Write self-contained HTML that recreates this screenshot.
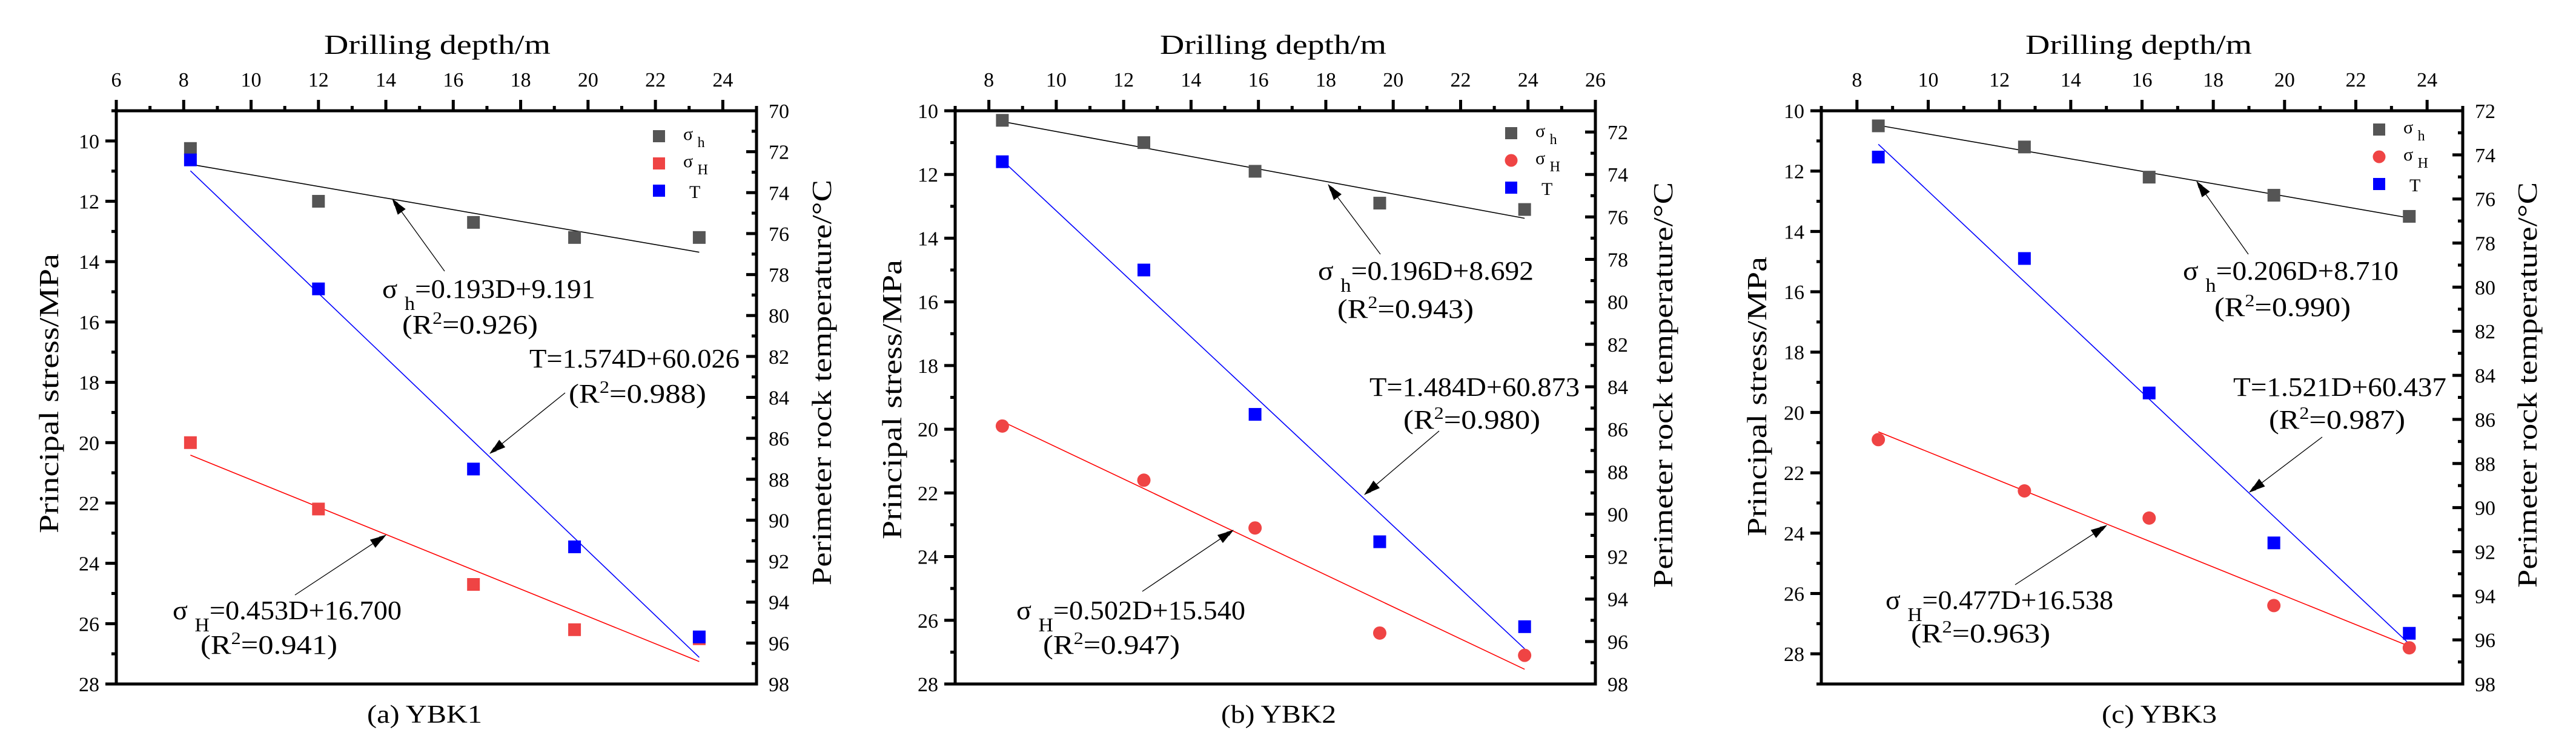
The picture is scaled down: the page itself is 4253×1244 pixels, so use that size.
<!DOCTYPE html>
<html><head><meta charset="utf-8"><style>
html,body{margin:0;padding:0;background:#fff;}
svg{display:block;}
text{font-family:"Liberation Serif","Noto Serif CJK SC",serif;fill:#000;}
</style></head><body>
<svg id="chart" width="4253" height="1244" viewBox="0 0 4253 1244" xmlns="http://www.w3.org/2000/svg">
<defs><marker id="ah" markerWidth="12" markerHeight="8" refX="11" refY="4" orient="auto" markerUnits="userSpaceOnUse" viewBox="0 0 12 8"><path d="M0,0 L12,4 L0,8 Z" fill="#000"/></marker></defs>
</svg>
<script>
// Panel (a) YBK1
const aDepth = [8.2, 12.0, 16.6, 19.6, 23.3];
const aSh = [10.25, 12.0, 12.7, 13.2, 13.2];
const aSH = [20.0, 22.2, 24.7, 26.2, 26.5];
const aT = [72.4, 78.7, 87.5, 91.3, 95.7];
const aFitSh = [0.193, 9.191];
const aFitSH = [0.453, 16.700];
const aFitT = [1.574, 60.026];
const aXTicks = [6, 8, 10, 12, 14, 16, 18, 20, 22, 24];
const aYTicks = [10, 12, 14, 16, 18, 20, 22, 24, 26, 28];
const aRTicks = [70, 72, 74, 76, 78, 80, 82, 84, 86, 88, 90, 92, 94, 96, 98];
const aLabels = ["0.193D+9.191", "0.926", "T=1.574D+60.026", "0.988", "0.453D+16.700", "0.941", "(a) YBK1"];
// Panel (b) YBK2
const bDepth = [8.4, 12.6, 15.9, 19.6, 23.9];
const bSh = [10.3, 11.0, 11.9, 12.9, 13.1];
const bSH = [19.9, 21.6, 23.1, 26.4, 27.1];
const bT = [73.4, 78.5, 85.3, 91.3, 95.3];
const bFitSh = [0.196, 8.692];
const bFitSH = [0.502, 15.540];
const bFitT = [1.484, 60.873];
const bXTicks = [8, 10, 12, 14, 16, 18, 20, 22, 24, 26];
const bYTicks = [10, 12, 14, 16, 18, 20, 22, 24, 26, 28];
const bRTicks = [72, 74, 76, 78, 80, 82, 84, 86, 88, 90, 92, 94, 96, 98];
const bLabels = ["0.196D+8.692", "0.943", "T=1.484D+60.873", "0.980", "0.502D+15.540", "0.947", "(b) YBK2"];
// Panel (c) YBK3
const cDepth = [8.6, 12.7, 16.2, 19.7, 23.5];
const cSh = [10.5, 11.2, 12.2, 12.8, 13.5];
const cSH = [20.9, 22.6, 23.5, 26.4, 27.8];
const cT = [74.1, 78.7, 84.8, 91.6, 95.7];
const cFitSh = [0.206, 8.710];
const cFitSH = [0.477, 16.538];
const cFitT = [1.521, 60.437];
const cXTicks = [8, 10, 12, 14, 16, 18, 20, 22, 24];
const cYTicks = [10, 12, 14, 16, 18, 20, 22, 24, 26, 28];
const cRTicks = [72, 74, 76, 78, 80, 82, 84, 86, 88, 90, 92, 94, 96, 98];
const cLabels = ["0.206D+8.710", "0.990", "T=1.521D+60.437", "0.987", "0.477D+16.538", "0.963", "(c) YBK3"];

const NS = "http://www.w3.org/2000/svg";
const svg = document.getElementById("chart");
function mk(tag, attrs, parent) {
  const e = document.createElementNS(NS, tag);
  for (const k in attrs) e.setAttribute(k, attrs[k]);
  (parent || svg).appendChild(e);
  return e;
}

const panels = [
  {id:"a", L:192, R:1249, T:183, B:1130, x0:6, x1:25, y0:9, y1:28, r0:70, r1:98,
   depth:aDepth, sh:aSh, sH:aSH, t:aT, fSh:aFitSh, fSH:aFitSH, fT:aFitT, xt:aXTicks, yt:aYTicks, rt:aRTicks, lab:aLabels, circ:false,
   title:[722,89], ylt:[80,650], yrt:[1356,632],
   ann:{sh:[631,492,352], shr:[664,551,224], sha:[734,448,648,329],
        t:[874,607,347], tr:[939,665,227], ta:[933,649,809,749],
        sH:[285,1023,378], sHr:[331,1080,226], sHa:[487,983,637,884]},
   cap:[701,1194], leg:[1088,225,45]},
  {id:"b", L:1577, R:2634, T:183, B:1130, x0:7, x1:26, y0:10, y1:28, r0:71, r1:98,
   depth:bDepth, sh:bSh, sH:bSH, t:bT, fSh:bFitSh, fSH:bFitSH, fT:bFitT, xt:bXTicks, yt:bYTicks, rt:bRTicks, lab:bLabels, circ:true,
   title:[2102,89], ylt:[1472,660], yrt:[2745,636],
   ann:{sh:[2176,462,356], shr:[2208,525,225], sha:[2279,420,2193,305],
        t:[2261,654,347], tr:[2317,708,226], ta:[2376,712,2253,817],
        sH:[1678,1023,378], sHr:[1722,1080,226], sHa:[1886,977,2036,876]},
   cap:[2111,1194], leg:[2495,220,45]},
  {id:"c", L:3007, R:4066, T:183, B:1130, x0:7, x1:25, y0:10, y1:29, r0:72, r1:98,
   depth:cDepth, sh:cSh, sH:cSH, t:cT, fSh:cFitSh, fSH:cFitSH, fT:cFitT, xt:cXTicks, yt:cYTicks, rt:cRTicks, lab:cLabels, circ:true,
   title:[3531,89], ylt:[2900,655], yrt:[4172,636],
   ann:{sh:[3604,462,356], shr:[3656,522,225], sha:[3712,420,3627,300],
        t:[3687,654,352], tr:[3746,708,225], ta:[3834,722,3714,813],
        sH:[3113,1006,376], sHr:[3155,1061,230], sHa:[3327,966,3478,868]},
   cap:[3565,1194], leg:[3928,214,45]}
];

function eqText(g, x, y, w, sub, rest, name) {
  const t = mk("text", {x:x, y:y, "font-size":44, textLength:w, lengthAdjust:"spacingAndGlyphs"}, g);
  
  
  if (sub) {
    const s1 = mk("tspan", {}, t); s1.textContent = "σ ";
    const s2 = mk("tspan", {dy:20, "font-size":32}, t); s2.textContent = sub;
    const s3 = mk("tspan", {dy:-20}, t); s3.textContent = "=" + rest;
  } else {
    t.textContent = rest;
  }
}
function r2Text(g, x, y, w, val, name) {
  const t = mk("text", {x:x, y:y, "font-size":44, textLength:w, lengthAdjust:"spacingAndGlyphs"}, g);
  
  
  const a = mk("tspan", {}, t); a.textContent = "(R";
  const b = mk("tspan", {dy:-16, "font-size":28}, t); b.textContent = "2";
  const c = mk("tspan", {dy:16}, t); c.textContent = "=" + val + ")";
}

panels.forEach(p => {
  const g = mk("g", {});
  
  
  const X = v => p.L + (v - p.x0) / (p.x1 - p.x0) * (p.R - p.L);
  const Y = v => p.T + (v - p.y0) / (p.y1 - p.y0) * (p.B - p.T);
  const YR = v => p.T + (v - p.r0) / (p.r1 - p.r0) * (p.B - p.T);

  // frame
  const fr = mk("rect", {x:p.L, y:p.T, width:p.R - p.L, height:p.B - p.T, fill:"none", stroke:"#000", "stroke-width":5}, g);
  
  

  // top x-axis ticks
  for (let v = Math.ceil(p.x0); v <= p.x1; v++) {
    const major = p.xt.includes(v);
    const tk = mk("line", {x1:X(v), x2:X(v), y1:p.T, y2:p.T - (major ? 18 : 8), stroke:"#000", "stroke-width":5}, g);
    
    
  }
  p.xt.forEach(v => {
    const t = mk("text", {x:X(v), y:143, "font-size":34, "text-anchor":"middle"}, g);
    
    
    t.textContent = v;
  });
  // left y-axis ticks
  for (let v = Math.ceil(p.y0); v <= p.y1; v++) {
    const major = p.yt.includes(v);
    const tk = mk("line", {x1:p.L, x2:p.L - (major ? 18 : 8), y1:Y(v), y2:Y(v), stroke:"#000", "stroke-width":5}, g);
    
    
  }
  p.yt.forEach(v => {
    const t = mk("text", {x:p.L - 28, y:Y(v) + 12, "font-size":34, "text-anchor":"end"}, g);
    
    
    t.textContent = v;
  });
  // right y-axis ticks (inward)
  for (let v = Math.ceil(p.r0); v <= p.r1; v++) {
    const major = p.rt.includes(v);
    const tk = mk("line", {x1:p.R, x2:p.R - (major ? 17 : 8), y1:YR(v), y2:YR(v), stroke:"#000", "stroke-width":5}, g);
    
    
  }
  p.rt.forEach(v => {
    const t = mk("text", {x:p.R + 20, y:YR(v) + 12, "font-size":34}, g);
    
    
    t.textContent = v;
  });

  // axis titles
  const xt = mk("text", {x:p.title[0], y:p.title[1], "font-size":46, "text-anchor":"middle", textLength:374, lengthAdjust:"spacingAndGlyphs"}, g);
  
  
  xt.textContent = "Drilling depth/m";
  const yl = mk("text", {x:0, y:0, "font-size":46, "text-anchor":"middle", textLength:462, lengthAdjust:"spacingAndGlyphs", transform:`translate(${p.ylt[0] + 16},${p.ylt[1]}) rotate(-90)`}, g);
  
  
  yl.textContent = "Principal stress/MPa";
  const yr = mk("text", {x:0, y:0, "font-size":46, "text-anchor":"middle", textLength:670, lengthAdjust:"spacingAndGlyphs", transform:`translate(${p.yrt[0] + 16},${p.yrt[1]}) rotate(-90)`}, g);
  
  
  yr.textContent = "Perimeter rock temperature/°C";

  // fit lines
  const dmin = p.depth[0], dmax = p.depth[p.depth.length - 1];
  const fl1 = mk("line", {x1:X(dmin), y1:Y(p.fSh[0]*dmin + p.fSh[1]), x2:X(dmax), y2:Y(p.fSh[0]*dmax + p.fSh[1]), stroke:"#000", "stroke-width":1.6}, g);
  
  
  const fl2 = mk("line", {x1:X(dmin), y1:Y(p.fSH[0]*dmin + p.fSH[1]), x2:X(dmax), y2:Y(p.fSH[0]*dmax + p.fSH[1]), stroke:"#ff0000", "stroke-width":1.6}, g);
  
  
  const fl3 = mk("line", {x1:X(dmin), y1:YR(p.fT[0]*dmin + p.fT[1]), x2:X(dmax), y2:YR(p.fT[0]*dmax + p.fT[1]), stroke:"#0000ff", "stroke-width":1.6}, g);
  
  

  // points
  p.depth.forEach((d, i) => {
    const s = mk("rect", {x:X(d) - 10.5, y:Y(p.sh[i]) - 10.5, width:21, height:21, fill:"#555555"}, g);
    
    
  });
  p.depth.forEach((d, i) => {
    let s;
    if (p.circ) s = mk("ellipse", {cx:X(d), cy:Y(p.sH[i]), rx:11, ry:11, fill:"#ef4444"}, g);
    else s = mk("rect", {x:X(d) - 10.5, y:Y(p.sH[i]) - 10.5, width:21, height:21, fill:"#ef4444"}, g);
    
    
  });
  p.depth.forEach((d, i) => {
    const s = mk("rect", {x:X(d) - 10.5, y:YR(p.t[i]) - 10.5, width:21, height:21, fill:"#0000ff"}, g);
    
    
  });

  // annotations
  const A = p.ann;
  eqText(g, A.sh[0], A.sh[1], A.sh[2], "h", p.lab[0], 'equation-sigma-h');
  r2Text(g, A.shr[0], A.shr[1], A.shr[2], p.lab[1], 'r2-sigma-h');
  eqText(g, A.t[0], A.t[1], A.t[2], null, p.lab[2], 'equation-temperature');
  r2Text(g, A.tr[0], A.tr[1], A.tr[2], p.lab[3], 'r2-temperature');
  eqText(g, A.sH[0], A.sH[1], A.sH[2], "H", p.lab[4], 'equation-sigma-H');
  r2Text(g, A.sHr[0], A.sHr[1], A.sHr[2], p.lab[5], 'r2-sigma-H');
  [A.sha, A.ta, A.sHa].forEach(a => {
    const l = mk("line", {x1:a[0], y1:a[1], x2:a[2], y2:a[3], stroke:"#000", "stroke-width":1.3, "marker-end":"url(#ah)"}, g);
    
    
  });
  // larger arrowheads
  [A.sha, A.ta, A.sHa].forEach(a => {
    const ang = Math.atan2(a[3] - a[1], a[2] - a[0]);
    const L = 26, W = 8;
    const bx = a[2] - L*Math.cos(ang), by = a[3] - L*Math.sin(ang);
    const px = -Math.sin(ang)*W, py = Math.cos(ang)*W;
    const h = mk("polygon", {points:`${a[2]},${a[3]} ${bx+px},${by+py} ${bx-px},${by-py}`, fill:"#000"}, g);
    
    
  });

  // caption
  const cp = mk("text", {x:p.cap[0], y:p.cap[1], "font-size":42, "text-anchor":"middle", textLength:190, lengthAdjust:"spacingAndGlyphs"}, g);
  
  
  cp.textContent = p.lab[6];

  // legend
  const lg = mk("g", {}, g);
  
  
  const [lx, ly, ls] = p.leg;
  const e1 = mk("rect", {x:lx - 10, y:ly - 10, width:20, height:20, fill:"#555555"}, lg);
  
  
  let e2;
  if (p.circ) e2 = mk("ellipse", {cx:lx, cy:ly + ls, rx:10.5, ry:10.5, fill:"#ef4444"}, lg);
  else e2 = mk("rect", {x:lx - 10, y:ly + ls - 10, width:20, height:20, fill:"#ef4444"}, lg);
  
  
  const e3 = mk("rect", {x:lx - 10, y:ly + 2*ls - 10, width:20, height:20, fill:"#0000ff"}, lg);
  
  
  [["h", 0], ["H", 1]].forEach(([s, k]) => {
    const t = mk("text", {x:lx + 40, y:ly + k*ls + 6, "font-size":30}, lg);
    
    
    const a = mk("tspan", {}, t); a.textContent = "σ ";
    const b = mk("tspan", {dy:12, "font-size":24}, t); b.textContent = s;
  });
  const tl = mk("text", {x:lx + 50, y:ly + 2*ls + 12, "font-size":30}, lg);
  
  
  tl.textContent = "T";
});
</script>
</body></html>
